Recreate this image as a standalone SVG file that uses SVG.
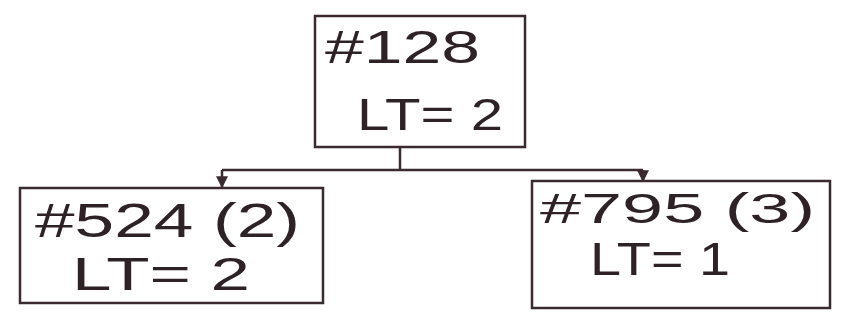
<svg xmlns="http://www.w3.org/2000/svg" width="841" height="321" viewBox="0 0 841 321">
<defs>
<marker id="ah" viewBox="0 0 10 10" refX="9" refY="5" markerWidth="12" markerHeight="12" orient="auto" markerUnits="userSpaceOnUse">
<path d="M0,0 L10,5 L0,10 Z" fill="#3b2b30"/>
</marker>
<style>
.box{fill:#ffffff;stroke:#3b2b30;stroke-width:2.5}
.t{font-family:"Liberation Sans",Arial,sans-serif;fill:#2e2226}
.c{fill:none;stroke:#3b2b30;stroke-width:2.5}
</style>
</defs>
<rect width="841" height="321" fill="#ffffff"/>
<g id="connectors">
<path class="c" d="M400,147 V170"/>
<path class="c" d="M222,170 H643"/>
<path class="c" d="M222,170 V187" marker-end="url(#ah)"/>
<path class="c" d="M643,170 V181" marker-end="url(#ah)"/>
</g>
<g id="node128">
<rect class="box" x="315" y="16" width="210" height="131"/>
<text class="t" x="325" y="63" font-size="46" textLength="155" lengthAdjust="spacingAndGlyphs">#128</text>
<text class="t" x="357" y="130" font-size="44" textLength="146" lengthAdjust="spacingAndGlyphs">LT= 2</text>
</g>
<g id="node524">
<rect class="box" x="20" y="188" width="303" height="115"/>
<text class="t" x="35" y="237" font-size="48" textLength="265" lengthAdjust="spacingAndGlyphs">#524 (2)</text>
<text class="t" x="72" y="290" font-size="46" textLength="178" lengthAdjust="spacingAndGlyphs">LT= 2</text>
</g>
<g id="node795">
<rect class="box" x="532" y="181" width="298" height="127"/>
<text class="t" x="540" y="223" font-size="42" textLength="275" lengthAdjust="spacingAndGlyphs">#795 (3)</text>
<text class="t" x="590" y="275" font-size="46" textLength="140" lengthAdjust="spacingAndGlyphs">LT= 1</text>
</g>
</svg>
